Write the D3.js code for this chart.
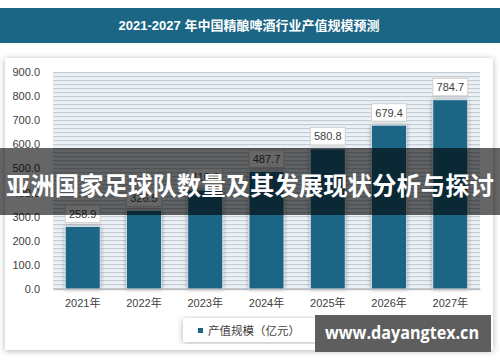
<!DOCTYPE html>
<html lang="zh">
<head>
    <meta charset="UTF-8">
    <title>2021-2027 年中国精酿啤酒行业产值规模预测</title>
    <script src="https://d3js.org/d3.v7.min.js" charset="utf-8"></script>
    <style>
        body { margin: 0; background: #fff; }
        text { font-family: "Liberation Sans", "Noto Sans CJK SC", sans-serif; }
    </style>
</head>
<body>
    <div id="vis"></div>
    <script>

        var width = 500;
        var height = 362;

        // data
        var years = ["2021年", "2022年", "2023年", "2024年", "2025年", "2026年", "2027年"];
        var values = [258.9, 326.5, 410.6, 487.7, 580.8, 679.4, 784.7];
        var yTicks = [0, 100, 200, 300, 400, 500, 600, 700, 800, 900];
        var seriesName = "产值规模（亿元）";
        var title = "2021-2027 年中国精酿啤酒行业产值规模预测";
        var bannerText = "亚洲国家足球队数量及其发展现状分析与探讨";
        var watermark = "www.dayangtex.cn";

        var blue = "#1b6585";

        var plot = { left: 53, right: 480, top: 72, bottom: 289 };

        var svg = d3.select("#vis")
            .append("svg")
            .attr("width", width)
            .attr("height", height);

        var defs = svg.append("defs");

        var shadow = defs.append("filter").attr("id", "cardShadow")
            .attr("x", "-5%").attr("y", "-5%").attr("width", "110%").attr("height", "110%");
        shadow.append("feDropShadow")
            .attr("dx", 0).attr("dy", 1)
            .attr("stdDeviation", 3)
            .attr("flood-color", "#000")
            .attr("flood-opacity", 0.3);

        var barShadow = defs.append("filter").attr("id", "barShadow")
            .attr("x", "-30%").attr("y", "-10%").attr("width", "160%").attr("height", "120%");
        barShadow.append("feDropShadow")
            .attr("dx", 0).attr("dy", 0)
            .attr("stdDeviation", 2)
            .attr("flood-color", "#000")
            .attr("flood-opacity", 0.35);

        // narrow horizontal stripes behind the bars
        var stripes = defs.append("pattern")
            .attr("id", "stripes")
            .attr("patternUnits", "userSpaceOnUse")
            .attr("width", 8).attr("height", 4)
            .attr("y", plot.top);
        stripes.append("rect").attr("width", 8).attr("height", 4).attr("fill", "#edf2f7");
        stripes.append("rect").attr("width", 8).attr("height", 1.2).attr("fill", "#c4ccd4");

        // title band
        svg.append("rect")
            .attr("x", 0).attr("y", 8)
            .attr("width", width).attr("height", 35)
            .attr("fill", blue);

        svg.append("text")
            .attr("x", 249).attr("y", 25.5)
            .attr("text-anchor", "middle")
            .attr("dominant-baseline", "central")
            .attr("fill", "#fff")
            .attr("font-size", "13px")
            .attr("font-weight", "bold")
            .text(title);

        // card
        svg.append("rect")
            .attr("x", 5).attr("y", 58)
            .attr("width", 488).attr("height", 292)
            .attr("fill", "#fff")
            .attr("filter", "url(#cardShadow)");

        var x_scale = d3.scaleBand()
            .domain(years)
            .range([plot.left, plot.right])
            .paddingInner(0.43)
            .paddingOuter(0.2);

        var y_scale = d3.scaleLinear()
            .domain([0, 900])
            .range([plot.bottom, plot.top]);

        svg.append("rect")
            .attr("x", plot.left).attr("y", plot.top)
            .attr("width", plot.right - plot.left)
            .attr("height", plot.bottom - plot.top)
            .attr("fill", "url(#stripes)");

        // y axis labels
        var y_axis = d3.axisLeft(y_scale)
            .tickValues(yTicks)
            .tickFormat(d3.format(".1f"))
            .tickSize(0)
            .tickPadding(0);

        var yg = svg.append("g")
            .attr("transform", "translate(40,0)")
            .call(y_axis);
        yg.select(".domain").remove();
        yg.selectAll("text")
            .attr("font-size", "11px")
            .attr("fill", "#404040")
            .style("font-family", "'Liberation Sans', sans-serif");

        // bars
        svg.selectAll(".bar")
            .data(values)
            .enter()
            .append("rect")
            .attr("class", "bar")
            .attr("x", function(d, i){ return x_scale(years[i]); })
            .attr("y", function(d){ return y_scale(d); })
            .attr("width", x_scale.bandwidth())
            .attr("height", function(d){ return plot.bottom - y_scale(d); })
            .attr("fill", blue)
            .attr("stroke", "#dfe8ee")
            .attr("stroke-width", 0.8)
            .attr("filter", "url(#barShadow)");

        // baseline
        var x_axis = d3.axisBottom(x_scale).tickSize(0).tickPadding(10);
        var xg = svg.append("g")
            .attr("transform", "translate(0," + plot.bottom + ")")
            .call(x_axis);
        xg.select(".domain").attr("stroke", "#bfbfbf").attr("stroke-width", 1.5);
        xg.selectAll("text")
            .attr("font-size", "11px")
            .attr("fill", "#404040")
            .style("font-family", "'Liberation Sans', 'Noto Sans CJK SC', sans-serif");

        // value labels in boxes
        var labels = svg.selectAll(".label")
            .data(values)
            .enter()
            .append("g")
            .attr("class", "label")
            .attr("transform", function(d, i){
                return "translate(" + (x_scale(years[i]) + x_scale.bandwidth() / 2) + "," + (y_scale(d) - 4) + ")";
            });

        labels.append("rect")
            .attr("x", -17.5).attr("y", -17.5)
            .attr("width", 35).attr("height", 17.5)
            .attr("fill", "#fff")
            .attr("stroke", "#d0d0d0")
            .attr("stroke-width", 1);

        labels.append("text")
            .attr("y", -8.5)
            .attr("text-anchor", "middle")
            .attr("dominant-baseline", "central")
            .attr("font-size", "11px")
            .attr("fill", "#404040")
            .text(function(d){ return d3.format(".1f")(d); });

        // legend
        svg.append("rect")
            .attr("x", 183).attr("y", 318)
            .attr("width", 135).attr("height", 24)
            .attr("fill", "#fff")
            .attr("filter", "url(#cardShadow)");

        svg.append("rect")
            .attr("x", 198).attr("y", 328)
            .attr("width", 5).attr("height", 5)
            .attr("fill", blue);

        svg.append("text")
            .attr("x", 208).attr("y", 331)
            .attr("dominant-baseline", "central")
            .attr("font-size", "11.5px")
            .attr("fill", "#404040")
            .attr("textLength", 92)
            .attr("lengthAdjust", "spacing")
            .text(seriesName);

        // watermark
        svg.append("rect")
            .attr("x", 315).attr("y", 315)
            .attr("width", 176).attr("height", 37)
            .attr("fill", "#5e5e5e");

        svg.append("text")
            .attr("x", 402).attr("y", 332)
            .attr("text-anchor", "middle")
            .attr("dominant-baseline", "central")
            .attr("fill", "#fff")
            .attr("font-size", "18px")
            .attr("font-weight", "bold")
            .attr("textLength", 154)
            .attr("lengthAdjust", "spacingAndGlyphs")
            .style("font-family", "'Open Sans', 'DejaVu Sans', sans-serif")
            .text(watermark);

        // dark banner over the middle
        svg.append("rect")
            .attr("x", 0).attr("y", 148)
            .attr("width", width).attr("height", 67)
            .attr("fill", "#000")
            .attr("opacity", 0.6);

        svg.append("text")
            .attr("x", 250).attr("y", 184)
            .attr("text-anchor", "middle")
            .attr("dominant-baseline", "central")
            .attr("fill", "#fff")
            .attr("font-size", "24.5px")
            .attr("font-weight", "bold")
            .attr("textLength", 488)
            .attr("lengthAdjust", "spacingAndGlyphs")
            .style("font-family", "'Noto Sans CJK SC', sans-serif")
            .text(bannerText);

    </script>
</body>
</html>
